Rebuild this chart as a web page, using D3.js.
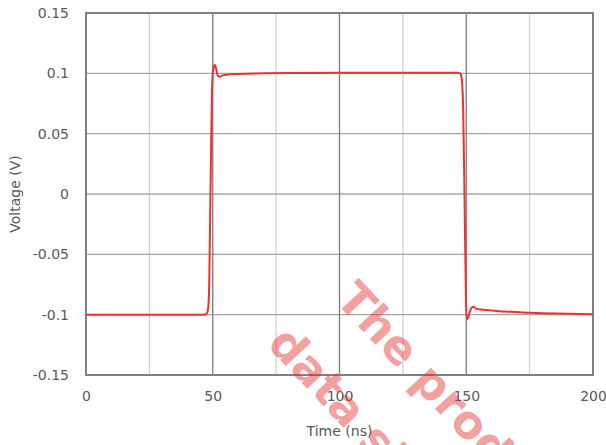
<!DOCTYPE html>
<html><head><meta charset="utf-8">
<script src="https://cdn.jsdelivr.net/npm/d3@7"></script>
<style>body{margin:0;background:#fff}svg{display:block}</style>
</head><body>
<script>
const timeNs = [0, 20, 46, 47.3, 47.9, 48.3, 48.6, 48.9, 49.3, 49.7, 50.1, 50.5, 50.9, 51.4, 52.0, 52.9, 54, 56, 60, 70, 80, 100, 120, 140, 146.5, 147.3, 147.9, 148.3, 148.8, 149.3, 149.9, 150.2, 150.8, 151.5, 152.2, 152.8, 154, 156, 158, 160, 163, 166, 170, 175, 180, 190, 200];
const voltage = [-0.1, -0.1, -0.1, -0.0997, -0.098, -0.092, -0.075, -0.03, 0.03, 0.085, 0.102, 0.106, 0.107, 0.103, 0.098, 0.0972, 0.0983, 0.099, 0.0995, 0.1, 0.1003, 0.1005, 0.1005, 0.1005, 0.1005, 0.1003, 0.099, 0.094, 0.069, 0.0, -0.088, -0.104, -0.102, -0.097, -0.094, -0.0935, -0.0952, -0.0958, -0.0962, -0.0966, -0.0972, -0.0975, -0.0978, -0.0984, -0.0988, -0.0993, -0.0996];
const xTicks = [0, 50, 100, 150, 200];
const xMinor = [25, 75, 125, 175];
const yTicks = [-0.15, -0.1, -0.05, 0, 0.05, 0.1, 0.15];
const xTitle = "Time (ns)";
const yTitle = "Voltage (V)";
const watermark = ["The product", "data sheet"];

const W = 606, H = 445;
const m = {l: 86, r: 13, t: 13, b: 70};
const svg = d3.select("body").append("svg").attr("width", W).attr("height", H);
const x = d3.scaleLinear().domain([0, 200]).range([m.l, W - m.r]);
const y = d3.scaleLinear().domain([-0.15, 0.15]).range([H - m.b, m.t]);
const font = "'DejaVu Sans', Verdana, sans-serif";

const g = svg.append("g");
g.selectAll(".vmin").data(xMinor).join("line")
  .attr("x1", d => x(d)).attr("x2", d => x(d)).attr("y1", y(0.15)).attr("y2", y(-0.15))
  .attr("stroke", "#cfcfcf").attr("stroke-width", 1.2);
g.selectAll(".hmaj").data(yTicks).join("line")
  .attr("x1", x(0)).attr("x2", x(200)).attr("y1", d => y(d)).attr("y2", d => y(d))
  .attr("stroke", "#a6a6a6").attr("stroke-width", 1.3);
g.selectAll(".vmaj").data(xTicks).join("line")
  .attr("x1", d => x(d)).attr("x2", d => x(d)).attr("y1", y(0.15)).attr("y2", y(-0.15))
  .attr("stroke", "#7a7a7a").attr("stroke-width", 1.3);
g.append("rect").attr("x", x(0)).attr("y", y(0.15)).attr("width", x(200) - x(0)).attr("height", y(-0.15) - y(0.15))
  .attr("fill", "none").attr("stroke", "#808080").attr("stroke-width", 2);

const xAxis = d3.axisBottom(x).tickValues(xTicks).tickSize(0).tickPadding(16).tickFormat(d3.format("d"));
svg.append("g").attr("transform", `translate(0,${y(-0.15)})`).call(xAxis)
  .call(s => s.select(".domain").remove())
  .selectAll("text").attr("font-family", font).attr("font-size", 14).attr("fill", "#595959");
const yAxis = d3.axisLeft(y).tickValues(yTicks).tickSize(0).tickPadding(17).tickFormat(d => d === 0 ? "0" : String(+d.toFixed(2)));
svg.append("g").attr("transform", `translate(${x(0)},0)`).call(yAxis)
  .call(s => s.select(".domain").remove())
  .selectAll("text").attr("font-family", font).attr("font-size", 14).attr("fill", "#595959");

svg.append("text").attr("x", (x(0) + x(200)) / 2).attr("y", 436).attr("text-anchor", "middle")
  .attr("font-family", font).attr("font-size", 14).attr("fill", "#595959").text(xTitle);
svg.append("text").attr("transform", `translate(20,${(y(0.15) + y(-0.15)) / 2}) rotate(-90)`).attr("text-anchor", "middle")
  .attr("font-family", font).attr("font-size", 14).attr("fill", "#595959").text(yTitle);

const pts = timeNs.map((t, i) => [t, voltage[i]]);
svg.append("path").datum(pts)
  .attr("d", d3.line().x(d => x(d[0])).y(d => y(d[1])).curve(d3.curveMonotoneX))
  .attr("fill", "none").attr("stroke", "#f0312a").attr("stroke-width", 2).attr("stroke-linejoin", "round");

const wm = svg.append("g").attr("transform", "translate(356,280) rotate(47)");
wm.selectAll("text").data(watermark).join("text")
  .attr("x", (d, i) => i * -14).attr("y", (d, i) => 30 + i * 80)
  .attr("font-family", font).attr("font-weight", "bold").attr("font-size", 46)
  .attr("fill", "rgba(226,40,40,0.45)").text(d => d);
</script>
</body></html>
